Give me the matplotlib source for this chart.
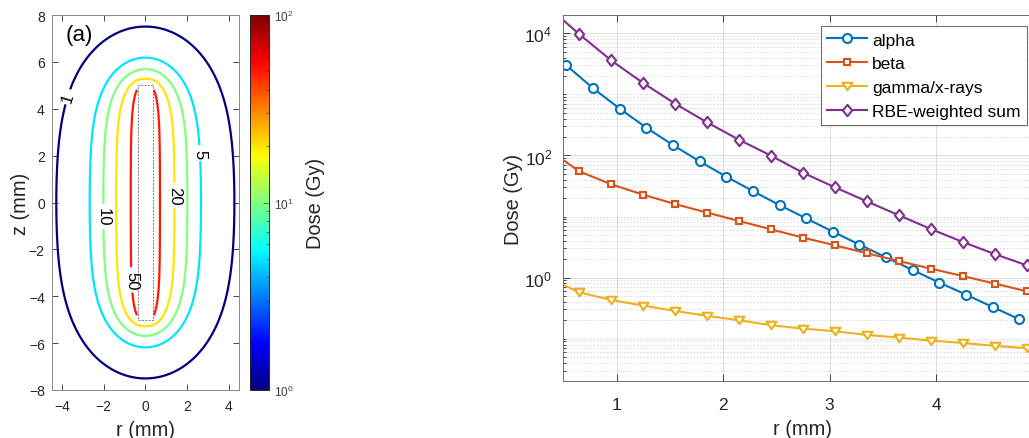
import numpy as np
import matplotlib
matplotlib.use("Agg")
import matplotlib.pyplot as plt
from matplotlib import ticker
from matplotlib.colors import LogNorm, LinearSegmentedColormap
from matplotlib.path import Path
from matplotlib.patches import Rectangle

plt.rcParams['font.family'] = 'Liberation Sans'
plt.rcParams['mathtext.fontset'] = 'custom'
plt.rcParams['mathtext.rm'] = 'Liberation Sans'
plt.rcParams['mathtext.it'] = 'Liberation Sans:italic'
plt.rcParams['axes.linewidth'] = 0.7

AX_COL = '#262626'

# ---- panel (a): seed geometry and iso-dose map ----
seed_radius = 0.35     # mm
seed_half_len = 5.0    # mm
contour_levels = [1, 5, 10, 20, 50]
# points on the iso-dose lines (r, z in mm, dose in Gy)
iso_r = [4.31, 2.60, 1.91, 1.30, 0.60,
         4.00, 2.42, 1.86, 1.25, 0.54,
         3.60, 2.18, 1.70, 1.06, 0.42,
         2.99,
         0.00, 0.40, 0.40, 0.40]
iso_z = [0.00, 0.00, 0.00, 0.00, 0.00,
         4.00, 4.00, 4.00, 4.00, 4.00,
         5.00, 5.00, 5.00, 5.00, 4.90,
         6.00,
         7.43, 6.04, 5.55, 5.17]
iso_dose = [1, 5, 10, 20, 50,
            1, 5, 10, 20, 50,
            1, 5, 10, 20, 50,
            1,
            1, 5, 10, 20]
label_pos = [(-3.7, 4.5), (2.5, 2.1), (-2.0, -0.6), (1.2, 0.3), (-0.65, -3.3)]

# ---- panel (b): radial dose profiles at mid-plane ----
r_alpha = [0.53, 0.78, 1.03, 1.28, 1.53, 1.78, 2.03, 2.28, 2.53, 2.78,
           3.03, 3.28, 3.53, 3.78, 4.03, 4.28, 4.53, 4.78]
dose_alpha = [2985, 1259, 583, 285, 148, 80, 45, 26.1, 15.4, 9.33,
              5.66, 3.47, 2.15, 1.33, 0.828, 0.527, 0.330, 0.208]
r_other = [0.5, 0.65, 0.95, 1.25, 1.55, 1.85, 2.15, 2.45, 2.75, 3.05,
           3.35, 3.65, 3.95, 4.25, 4.55, 4.85]
dose_beta = [84.1, 55, 33.7, 22.8, 16.0, 11.6, 8.45, 6.17, 4.52, 3.38,
             2.50, 1.87, 1.40, 1.06, 0.798, 0.597]
dose_gamma = [0.757, 0.574, 0.430, 0.348, 0.284, 0.236, 0.200, 0.166, 0.146, 0.132,
              0.115, 0.104, 0.093, 0.085, 0.076, 0.070]
dose_rbe = [16440, 9700, 3600, 1535, 705, 348, 181, 99.3, 52.2, 30.1,
            17.7, 10.5, 6.25, 3.83, 2.43, 1.59]
dose_ticks = [1e0, 1e2, 1e4]


def seed_dose(r, z, mu, half_len, n_s, n_phi):
    """Sum of exp(-mu d)/d over emitters spread on the seed surface."""
    s = np.linspace(-half_len, half_len, n_s)
    phi = (np.arange(n_phi) + 0.5) * 2 * np.pi / n_phi
    r = np.asarray(r, float)[..., None]
    z = np.asarray(z, float)[..., None]
    total = 0.0
    for c in np.cos(phi):
        d = np.sqrt(r**2 + seed_radius**2 - 2 * r * seed_radius * c + (z - s)**2)
        total = total + (np.exp(-mu * d) / d).sum(-1)
    return total / (n_s * n_phi)


# two-component fit: short-range part on the full seed, long-range part
# on an active length L2; weights by least squares
dose_iso = np.asarray(iso_dose, float)
short = {mu: seed_dose(iso_r, iso_z, mu, seed_half_len, 201, 16) for mu in (2, 3, 4, 6)}
best = None
for L2 in np.arange(4.3, 5.01, 0.1):
    for mu2 in np.arange(0.6, 1.21, 0.05):
        k2 = seed_dose(iso_r, iso_z, mu2, L2, 201, 16)
        for mu1, k1 in short.items():
            M = np.column_stack([k1, k2]) / dose_iso[:, None]
            w, *_ = np.linalg.lstsq(M, np.ones(len(dose_iso)), rcond=None)
            if np.any(w <= 0):
                continue
            err = (np.log(M @ w)**2).sum()
            if best is None or err < best[0]:
                best = (err, mu1, mu2, L2, w)
_, mu1_fit, mu2_fit, L2_fit, w_fit = best

rr = np.arange(0, 4.651, 0.05)
zz = np.arange(0, 8.251, 0.05)
RR, ZZ = np.meshgrid(rr, zz)
dose = (w_fit[0] * seed_dose(RR, ZZ, mu1_fit, seed_half_len, 201, 32)
        + w_fit[1] * seed_dose(RR, ZZ, mu2_fit, L2_fit, 201, 32))
dose = np.ma.masked_where((RR <= seed_radius + 0.01) & (ZZ <= seed_half_len), dose)
# mirror the quarter plane
half = np.ma.concatenate([dose[:, :0:-1], dose], axis=1)
dose_full = np.ma.concatenate([half[:0:-1], half], axis=0)
r_full = np.concatenate([-rr[:0:-1], rr])
z_full = np.concatenate([-zz[:0:-1], zz])

# jet as defined by MATLAB
jet_m = LinearSegmentedColormap('jet_m', {
    'red':   [(0, 0, 0), (3 / 8, 0, 0), (5 / 8, 1, 1), (7 / 8, 1, 1), (1, 0.5, 0.5)],
    'green': [(0, 0, 0), (1 / 8, 0, 0), (3 / 8, 1, 1), (5 / 8, 1, 1), (7 / 8, 0, 0), (1, 0, 0)],
    'blue':  [(0, 0.5, 0.5), (1 / 8, 1, 1), (3 / 8, 1, 1), (5 / 8, 0, 0), (1, 0, 0)],
}, N=256)

W, H = 1029, 439
fig = plt.figure(figsize=(W / 100, H / 100), dpi=100)

# ---------------- panel (a) ----------------
ax1 = fig.add_axes([51.7 / W, 48 / H, 187.3 / W, 375 / H])
norm = LogNorm(1, 100)
cs = ax1.contour(r_full, z_full, dose_full, levels=contour_levels,
                 cmap=jet_m, norm=norm, linewidths=1.6)
ax1.add_patch(Rectangle((-seed_radius, -seed_half_len), 2 * seed_radius, 2 * seed_half_len,
                        fill=False, ec='#8c8c8c', lw=0.8, ls=(0, (2, 1))))
texts = ax1.clabel(cs, fmt='%g', fontsize=12, colors='k', inline=True,
                   inline_spacing=3, manual=label_pos)
for t in texts:
    if t.get_text() != '1':
        t.set_rotation(270)
ax1.set_xlim(-4.5, 4.5)
ax1.set_ylim(-8, 8)
ax1.set_xticks([-4, -2, 0, 2, 4])
ax1.set_yticks(np.arange(-8, 9, 2))
ax1.tick_params(direction='in', top=True, right=True, labelsize=10, length=4,
                width=0.6, colors=AX_COL)
ax1.tick_params(axis='x', pad=6.5)
ax1.tick_params(axis='y', pad=5)
for sp in ax1.spines.values():
    sp.set_color('#8a8a8a')
ax1.set_xlabel('r (mm)', fontsize=14.4, color=AX_COL, labelpad=5)
ax1.set_ylabel('z (mm)', fontsize=14.4, color=AX_COL, labelpad=-1)
ax1.text(-3.85, 6.95, '(a)', fontsize=16, color='k')

cax = fig.add_axes([250 / W, 48 / H, 18.7 / W, 375 / H])
sm = matplotlib.cm.ScalarMappable(norm=norm, cmap=jet_m)
cb = fig.colorbar(sm, cax=cax)
cb.outline.set_linewidth(0.7)
cb.outline.set_edgecolor(AX_COL)
cax.tick_params(which='both', direction='in', labelsize=8.5, colors='#404040', width=0.5)
cax.tick_params(which='major', length=4)
cax.tick_params(which='minor', length=2.5)
cb.set_label('Dose (Gy)', fontsize=14.4, color=AX_COL, labelpad=9)

# ---------------- panel (b) ----------------
ax2 = fig.add_axes([563.3 / W, 56.7 / H, 479.3 / W, 366.3 / H])
diamond = Path([(0, 1), (0.82, 0), (0, -1), (-0.82, 0), (0, 1)],
               [Path.MOVETO, Path.LINETO, Path.LINETO, Path.LINETO, Path.CLOSEPOLY])
tri_down = Path([(-1, 0.75), (1, 0.75), (0, -0.75), (-1, 0.75)],
                [Path.MOVETO, Path.LINETO, Path.LINETO, Path.CLOSEPOLY])

common = dict(lw=1.5, mew=1.5, mfc='white')
ax2.plot(r_alpha, dose_alpha, color='#0072BD', marker='o', ms=6.5, label='alpha', **common)
ax2.plot(r_other, dose_beta, color='#D95319', marker='s', ms=5, markevery=slice(1, None),
         label='beta', **common)
ax2.plot(r_other, dose_gamma, color='#EDB120', marker=tri_down, ms=7.2,
         markevery=slice(1, None), label='gamma/x-rays', **common)
ax2.plot(r_other, dose_rbe, color='#7E2F8E', marker=diamond, ms=8.2,
         markevery=slice(1, None), label='RBE-weighted sum', **common)

ax2.set_yscale('log')
ax2.set_xlim(0.5, 5)
ax2.set_ylim(0.02, 2e4)
ax2.set_xticks([1, 2, 3, 4])
ax2.yaxis.set_major_locator(ticker.FixedLocator(dose_ticks))
ax2.yaxis.set_minor_locator(ticker.LogLocator(base=10, subs=np.arange(1, 10), numticks=20))
ax2.yaxis.set_minor_formatter(ticker.NullFormatter())
ax2.grid(which='major', color=AX_COL, alpha=0.15, lw=0.7)
ax2.grid(which='minor', axis='y', color='#1a1a1a', alpha=0.18, lw=0.6, ls=(0, (2, 2)))
ax2.set_axisbelow(True)
ax2.tick_params(which='both', direction='in', top=True, right=True, colors=AX_COL,
                labelsize=12.5, width=0.6)
ax2.tick_params(which='major', length=5)
ax2.tick_params(axis='x', which='major', pad=11.5)
ax2.tick_params(axis='y', which='major', pad=8)
ax2.tick_params(which='minor', length=2.5)
for sp in ax2.spines.values():
    sp.set_color('#6e6e6e')
ax2.set_xlabel('r (mm)', fontsize=14.4, color=AX_COL, labelpad=5)
ax2.set_ylabel('Dose (Gy)', fontsize=14.4, color=AX_COL, labelpad=1)

leg = ax2.legend(loc='upper right', bbox_to_anchor=(1026.7 / W, 1 - 27.3 / H),
                 bbox_transform=fig.transFigure, borderaxespad=0, fontsize=12.5,
                 fancybox=False, framealpha=1, edgecolor='#6e6e6e', handlelength=2.3,
                 handletextpad=0.3, labelspacing=0.5, borderpad=0.35)
leg.get_frame().set_linewidth(0.8)

fig.savefig('out.png', dpi=100)
